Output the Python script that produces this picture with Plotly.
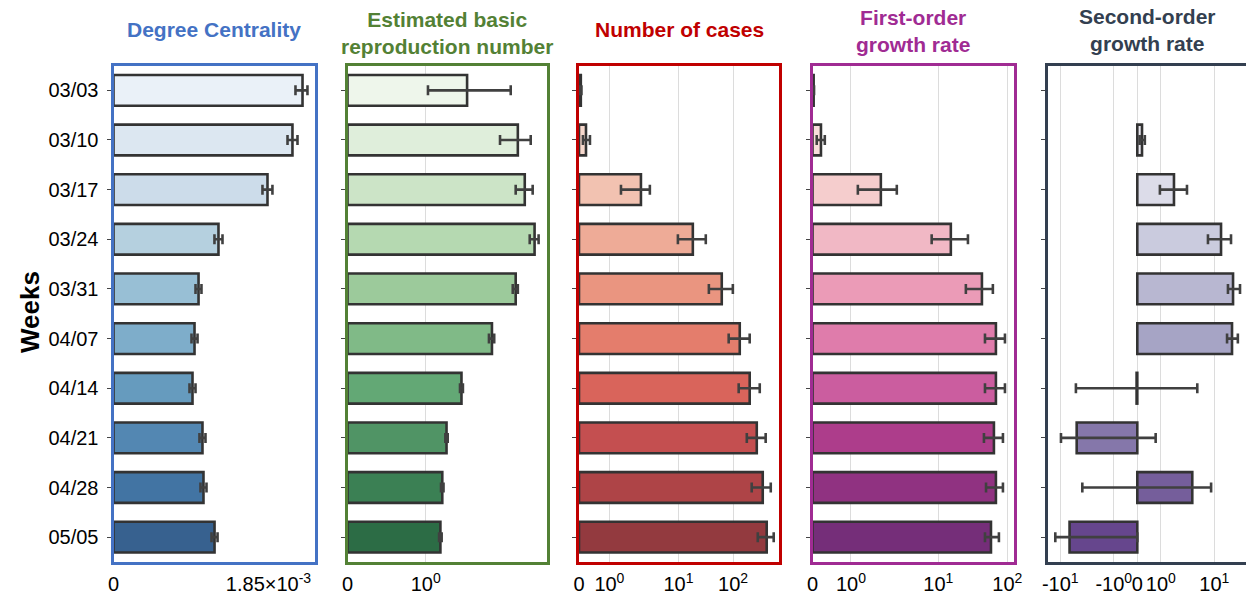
import math
import colorsys
import plotly.graph_objects as go

# ---------------- data ----------------
weeks = ["03/03", "03/10", "03/17", "03/24", "03/31", "04/07", "04/14", "04/21", "04/28", "05/05"]

deg_val = [2.256e-3, 2.136e-3, 1.838e-3, 1.253e-3, 1.015e-3, 0.967e-3, 0.943e-3, 1.062e-3, 1.074e-3, 1.206e-3]
deg_lo = [2.172e-3, 2.077e-3, 1.778e-3, 1.205e-3, 0.979e-3, 0.931e-3, 0.907e-3, 1.026e-3, 1.038e-3, 1.170e-3]
deg_hi = [2.315e-3, 2.196e-3, 1.897e-3, 1.301e-3, 1.050e-3, 1.003e-3, 0.979e-3, 1.098e-3, 1.110e-3, 1.242e-3]

r0_val = [1.71, 3.30, 3.61, 4.10, 3.21, 2.36, 1.59, 1.31, 1.24, 1.21]
r0_lo = [1.03, 2.62, 3.21, 3.85, 3.09, 2.27, 1.56, 1.29, 1.22, 1.19]
r0_hi = [3.01, 3.90, 4.00, 4.32, 3.30, 2.43, 1.62, 1.33, 1.26, 1.23]

cases_val = [0.06, 0.23, 2.86, 18.3, 62, 143, 244, 357, 492, 609]
cases_lo = [0.04, 0.13, 1.47, 9.8, 36, 83, 135, 209, 272, 377]
cases_hi = [0.08, 0.36, 3.85, 31.6, 99, 244, 419, 576, 757, 887]

g1_val = [0.03, 0.22, 2.20, 15.2, 42.9, 68.4, 68.4, 64.0, 68.4, 58.0]
g1_lo = [0.02, 0.11, 1.20, 8.4, 25.1, 47.5, 47.5, 45.9, 49.2, 47.5]
g1_hi = [0.04, 0.32, 3.35, 26.9, 61.8, 92.5, 92.5, 86.5, 86.5, 75.6]

g2_val = [None, 0.20, 1.76, 14.4, 27.7, 26.2, -0.03, -4.93, 3.87, -6.7]
g2_lo = [None, 0.10, 0.96, 7.6, 21.0, 20.0, -5.1, -9.7, -3.87, -13.1]
g2_hi = [None, 0.32, 3.08, 24.8, 40.5, 36.0, 4.8, 0.78, 8.7, 0.0]

titles = ["Degree Centrality", "Estimated basic<br>reproduction number", "Number of cases",
          "First-order<br>growth rate", "Second-order<br>growth rate"]
title_colors = ["#4472C4", "#538135", "#C00000", "#A02B93", "#333F50"]
cmaps = {
    "Blues": ["#f7fbff", "#deebf7", "#c6dbef", "#9ecae1", "#6baed6", "#4292c6", "#2171b5", "#08519c", "#08306b"],
    "Greens": ["#f7fcf5", "#e5f5e0", "#c7e9c0", "#a1d99b", "#74c476", "#41ab5d", "#238b45", "#006d2c", "#00441b"],
    "Reds": ["#fff5f0", "#fee0d2", "#fcbba1", "#fc9272", "#fb6a4a", "#ef3b2c", "#cb181d", "#a50f15", "#67000d"],
    "RdPu": ["#fff7f3", "#fde0dd", "#fcc5c0", "#fa9fb5", "#f768a1", "#dd3497", "#ae017e", "#7a0177", "#49006a"],
    "Purples": ["#fcfbfd", "#efedf5", "#dadaeb", "#bcbddc", "#9e9ac8", "#807dba", "#6a51a3", "#54278f", "#3f007d"],
}
panel_cmaps = ["Blues", "Greens", "Reds", "RdPu", "Purples"]


# ---------------- helpers ----------------
def hex2rgb(h):
    h = h.lstrip("#")
    return [int(h[i:i + 2], 16) / 255 for i in (0, 2, 4)]


def palette(name, n, sat=0.75, alpha=0.87):
    anchors = [hex2rgb(c) for c in cmaps[name]]
    out = []
    for k in range(n):
        t = (k + 1) / (n + 1)
        pos = t * (len(anchors) - 1)
        i = min(int(pos), len(anchors) - 2)
        f = pos - i
        rgb = [anchors[i][j] * (1 - f) + anchors[i + 1][j] * f for j in range(3)]
        h, l, s = colorsys.rgb_to_hls(*rgb)
        r, g, b = colorsys.hls_to_rgb(h, l, s * sat)
        r, g, b = [c * alpha + (1 - alpha) for c in (r, g, b)]
        out.append("rgb(%d,%d,%d)" % (round(r * 255), round(g * 255), round(b * 255)))
    return out


def T(v):
    """symmetric log-like scale used by the figure axes"""
    if v is None:
        return None
    s = -1 if v < 0 else 1
    a = abs(v)
    if a <= 1:
        u = 0.44 * a
    else:
        L = math.log10(a)
        if L <= 1:
            u = 0.44 + L
        elif L <= 2:
            u = 1.44 + (L - 1) * 0.79
        else:
            u = 2.23 + (L - 2) * 0.62
    return s * u


def ident(v):
    return v


# page has an 8px body margin; work in window pixels and convert
OFF = 8
W, H = 1254 - OFF, 597 - OFF


def fx(px):
    return (px - OFF) / W


def fy(py):
    return 1 - (py - OFF) / H


panels_px = [(113.5, 314.5), (347.5, 547), (579, 779), (812.5, 1014), (1048, 1247)]
y_top, y_bot = 65.5, 562
ydom = [fy(y_bot), fy(y_top)]

series = [
    (deg_val, deg_lo, deg_hi, ident, [0, 201.0 / 155 * 1.85e-3], [0, 1.85e-3], ["0", "1.85×10<sup>-3</sup>"], False),
    (r0_val, r0_lo, r0_hi, T, [0, 199.5 / 177.7], [0, T(1)], ["0", "10<sup>0</sup>"], True),
    (cases_val, cases_lo, cases_hi, T, [0, 200 / 69.1], [0, T(1), T(10), T(100)],
     ["0", "10<sup>0</sup>", "10<sup>1</sup>", "10<sup>2</sup>"], True),
    (g1_val, g1_lo, g1_hi, T, [0, 201.5 / 87.35], [0, T(1), T(10), T(100)],
     ["0", "10<sup>0</sup>", "10<sup>1</sup>", "10<sup>2</sup>"], True),
    (g2_val, g2_lo, g2_hi, T, [-89.3 / 53.5, 109.7 / 53.5], [T(-10), T(-1), 0, T(1), T(10)],
     ["-10<sup>1</sup>", "-10<sup>0</sup>", "0", "10<sup>0</sup>", "10<sup>1</sup>"], True),
]

FONT = "Liberation Sans, Arial, sans-serif"
fig = go.Figure()
layout = dict(
    width=W, height=H, margin=dict(l=0, r=0, t=0, b=0, autoexpand=False),
    plot_bgcolor="white", paper_bgcolor="white", showlegend=False,
    font=dict(family=FONT, size=20, color="black"),
)
annotations = []

for i, (vals, lo, hi, f, xr, tv, tt, grid) in enumerate(series):
    n = i + 1
    xs = "x" if n == 1 else "x%d" % n
    ys = "y" if n == 1 else "y%d" % n
    tx = [f(v) for v in vals]
    plus = [None if v is None else f(h) - f(v) for v, h in zip(vals, hi)]
    minus = [None if v is None else f(v) - f(l) for v, l in zip(vals, lo)]
    fig.add_trace(go.Bar(
        x=tx, y=weeks, orientation="h", xaxis=xs, yaxis=ys, width=0.62,
        marker=dict(color=palette(panel_cmaps[i], len(weeks)), line=dict(color="#333333", width=2.6)),
        error_x=dict(type="data", symmetric=False, array=plus, arrayminus=minus,
                     color="#404040", thickness=2.6, width=5),
    ))
    a, b = panels_px[i]
    xkey = "xaxis" if n == 1 else "xaxis%d" % n
    ykey = "yaxis" if n == 1 else "yaxis%d" % n
    layout[xkey] = dict(
        domain=[fx(a), fx(b)], range=xr, anchor=ys, automargin=False, tickangle=0,
        tickvals=tv, ticktext=tt, showgrid=grid, gridcolor="#dcdcdc", gridwidth=1.2,
        zeroline=False, showline=True, mirror=True, linecolor=title_colors[i], linewidth=3,
        ticks="", ticklabelstandoff=2,
        tickfont=dict(size=20, color="black", family=FONT),
    )
    layout[ykey] = dict(
        domain=ydom, anchor=xs, type="category", categoryorder="array", categoryarray=weeks,
        range=[9.5, -0.5], showline=True, mirror=True, linecolor=title_colors[i], linewidth=3,
        automargin=False, ticks="outside", ticklen=4, tickcolor="#444444", tickwidth=1.2,
        ticklabelstandoff=4,
        showticklabels=(n == 1), tickfont=dict(size=20, color="black", family=FONT),
        showgrid=False, zeroline=False,
    )
    title_y = {0: 29, 1: 33, 2: 29, 3: 31.5, 4: 30.5}[i]
    annotations.append(dict(
        text="<b>%s</b>" % titles[i], x=fx((a + b) / 2), y=fy(title_y),
        xref="paper", yref="paper", xanchor="center", yanchor="middle", showarrow=False,
        font=dict(size=21, color=title_colors[i], family=FONT),
    ))

annotations.append(dict(
    text="<b>Weeks</b>", x=fx(30), y=fy(312), xref="paper", yref="paper",
    xanchor="center", yanchor="middle", showarrow=False, textangle=-90,
    font=dict(size=26, color="black", family=FONT),
))
layout["annotations"] = annotations
fig.update_layout(**layout)
fig.write_html("out.html")
